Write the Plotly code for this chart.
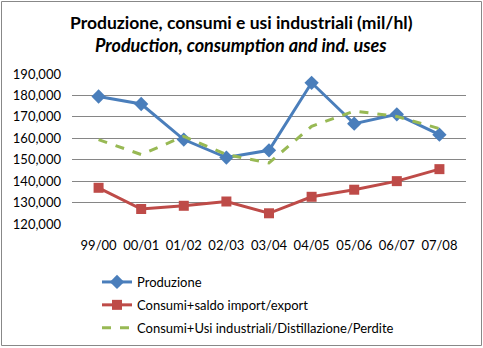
import plotly.graph_objects as go

categories = ["99/00", "00/01", "01/02", "02/03", "03/04", "04/05", "05/06", "06/07", "07/08"]
produzione = [179500, 176000, 159400, 151000, 154400, 185900, 166800, 171200, 161700]
consumi_saldo = [136900, 127000, 128500, 130500, 125000, 132700, 136000, 140000, 145600]
consumi_usi = [159400, 152400, 160900, 152400, 148500, 165600, 172700, 170200, 164500]
y_ticks = [120000, 130000, 140000, 150000, 160000, 170000, 180000, 190000]

FONT = "Lato"
W, H = 483, 348
ml, mr, mt, mb = 72, 17, 74, 124
pw, ph = W - ml - mr, H - mt - mb

def py(pix):
    return (mt + ph - pix) / ph

def px(pix):
    return (pix - ml) / pw

fig = go.Figure()
fig.add_trace(go.Scatter(x=categories, y=produzione, name="Produzione", mode="lines+markers",
                         legendgroup="a",
                         line=dict(color="#4A7EBB", width=3),
                         marker=dict(symbol="diamond", size=11, color="#4A7EBB")))
fig.add_trace(go.Scatter(x=categories, y=consumi_saldo, name="Consumi+saldo import/export", mode="lines+markers",
                         legendgroup="b",
                         line=dict(color="#BE4B48", width=3),
                         marker=dict(symbol="square", size=10, color="#BE4B48")))
fig.add_trace(go.Scatter(x=categories, y=consumi_usi, name="Consumi+Usi industriali/Distillazione/Perdite", mode="lines",
                         legendgroup="c",
                         line=dict(color="#98B954", width=3, dash="dash")))

fig.update_layout(
    width=W, height=H,
    margin=dict(l=ml, r=mr, t=mt, b=mb, autoexpand=False),
    paper_bgcolor="white", plot_bgcolor="white",
    font=dict(family=FONT, size=13, color="black"),
    showlegend=True,
    legend=dict(x=px(97), y=py(267), xanchor="left", yanchor="top",
                orientation="v", font=dict(family=FONT, size=13), tracegroupgap=3,
                bgcolor="rgba(0,0,0,0)"),
    xaxis=dict(type="category", showgrid=False, showline=False, ticks="", zeroline=False,
               tickfont=dict(family=FONT, size=13), ticklabelstandoff=12),
    yaxis=dict(range=[120000, 190000], tickvals=y_ticks, tickformat=",d", showgrid=True,
               gridcolor="#868686", gridwidth=1, showline=False, zeroline=False, ticks="",
               tickfont=dict(family=FONT, size=13), ticklabelstandoff=10),
    annotations=[
        dict(text="<b>Produzione, consumi e usi industriali (mil/hl)</b>", xref="paper", yref="paper",
             x=px(241), y=py(23), xanchor="center", yanchor="middle", showarrow=False,
             font=dict(family=FONT, size=17.5, color="black")),
        dict(text="<b><i>Production, consumption and ind. uses</i></b>", xref="paper", yref="paper",
             x=px(241), y=py(45), xanchor="center", yanchor="middle", showarrow=False,
             font=dict(family=FONT, size=18, color="black")),
    ],
    shapes=[dict(type="rect", xref="paper", yref="paper",
                 x0=px(1.5), x1=px(481.5), y0=py(345.5), y1=py(1.5),
                 line=dict(color="#888888", width=1), layer="below")],
)

fig.write_html("out.html")
